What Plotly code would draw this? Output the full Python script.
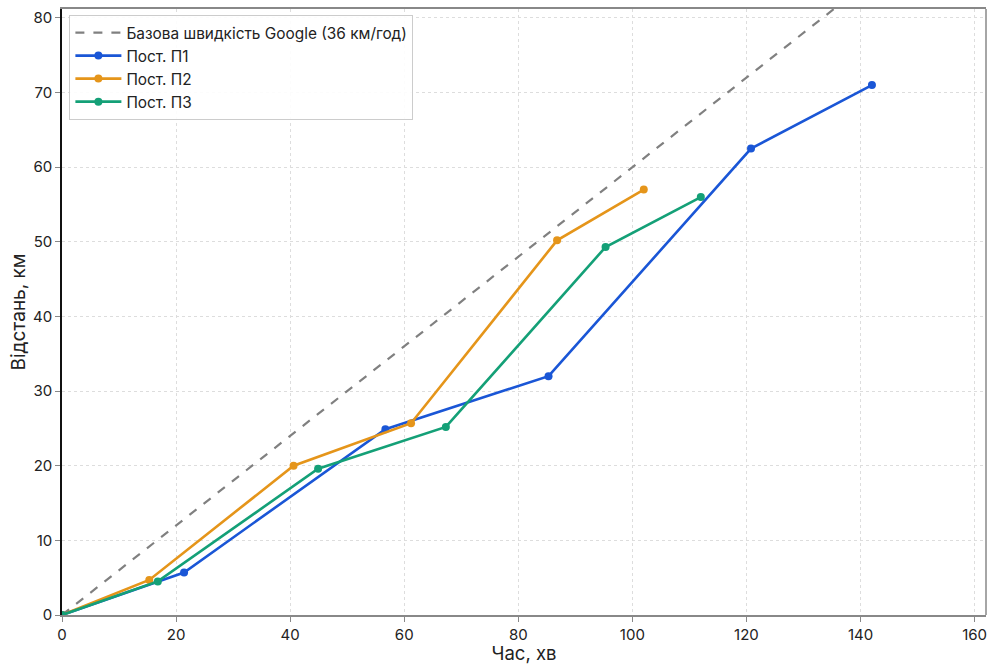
import plotly.graph_objects as go

# Data
google_x = [0, 162]
google_y = [0, 97.2]

p1_x = [0, 21.4, 56.7, 85.3, 120.8, 142.0]
p1_y = [0, 5.7, 24.9, 32.0, 62.5, 71.0]

p2_x = [0, 15.3, 40.6, 61.2, 86.8, 102.0]
p2_y = [0, 4.7, 20.0, 25.7, 50.2, 57.0]

p3_x = [0, 16.8, 44.9, 67.3, 95.3, 112.0]
p3_y = [0, 4.5, 19.6, 25.2, 49.3, 56.0]

x_ticks = [0, 20, 40, 60, 80, 100, 120, 140, 160]
y_ticks = [0, 10, 20, 30, 40, 50, 60, 70, 80]

names = ["Базова швидкість Google (36 км/год)", "Пост. П1", "Пост. П2", "Пост. П3"]
colors = ["#808080", "#1A56D6", "#E5951A", "#14A077"]

FONT = "Inter, Roboto, sans-serif"

fig = go.Figure()
fig.add_trace(go.Scatter(x=google_x, y=google_y, mode="lines", name=names[0],
                         line=dict(color=colors[0], width=2.2, dash="dash")))
for xs, ys, nm, c in [(p1_x, p1_y, names[1], colors[1]),
                      (p2_x, p2_y, names[2], colors[2]),
                      (p3_x, p3_y, names[3], colors[3])]:
    fig.add_trace(go.Scatter(x=xs, y=ys, mode="lines+markers", name=nm,
                             line=dict(color=c, width=2.6),
                             marker=dict(color=c, size=8)))

fig.update_layout(
    width=991, height=664,
    margin=dict(l=62, r=5, t=9, b=49, autoexpand=False),
    paper_bgcolor="white", plot_bgcolor="white",
    font=dict(family=FONT, size=15, color="#222222"),
    showlegend=True,
    legend=dict(x=0.008, y=0.99, xanchor="left", yanchor="top",
                bgcolor="rgba(255,255,255,0.9)", bordercolor="#cccccc", borderwidth=1,
                itemwidth=46,
                font=dict(size=15.4, color="#222222"), tracegroupgap=0),
    xaxis=dict(range=[0, 162], tickvals=x_ticks, automargin=False,
               showgrid=True, gridcolor="#dddddd", griddash="dot", gridwidth=1,
               zeroline=False, showline=True, linecolor="#888888", linewidth=1.5, mirror=True,
               ticks="outside", ticklen=5, tickcolor="#888888",
               tickfont=dict(size=15, color="#222222"),
               title=dict(text="Час, хв", font=dict(size=18.5, color="#222222"), standoff=7)),
    yaxis=dict(range=[0, 81.2], tickvals=y_ticks, automargin=False,
               showgrid=True, gridcolor="#dddddd", griddash="dot", gridwidth=1,
               zeroline=False, showline=True, linecolor="#111111", linewidth=1.5, mirror=False,
               ticks="outside", ticklen=5, tickcolor="#888888",
               tickfont=dict(size=15, color="#222222"),
               title=dict(text="Відстань, км", font=dict(size=19, color="#222222"), standoff=2)),
    shapes=[dict(type="line", xref="paper", yref="paper", x0=1, x1=1, y0=0, y1=1,
                 line=dict(color="#888888", width=1.5))],
)

fig.write_html("out.html", config={"displayModeBar": False},
               post_script="document.body.style.margin='0';document.body.style.overflow='hidden';")
